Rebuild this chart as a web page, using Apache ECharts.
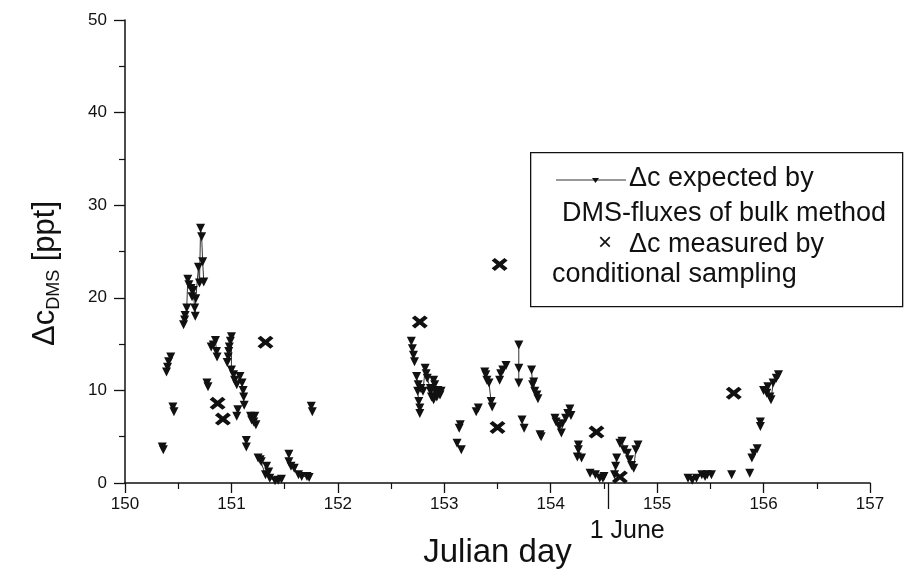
<!DOCTYPE html>
<html><head><meta charset="utf-8">
<script src="https://cdn.jsdelivr.net/npm/echarts@6/dist/echarts.min.js"></script>
<style>html,body{margin:0;padding:0;background:#fff}#c{width:917px;height:579px}</style>
</head><body><div id="c"></div>
<script>
// Δc expected by DMS-fluxes of bulk method: [julian day, ppt], connected within each segment
var expectedSegments = [
  [[150.35,3.9],[150.36,3.6]],
  [[150.39,12.0],[150.40,12.5],[150.41,13.1],[150.43,13.6]],
  [[150.45,8.2],[150.46,7.7]],
  [[150.55,17.1],[150.56,17.6],[150.565,18.1],[150.58,18.9],[150.59,22.0],[150.60,21.4],[150.62,21.0],[150.63,20.1],[150.64,20.8],[150.655,18.9],[150.66,18.0],[150.665,19.9],[150.69,23.3],[150.70,21.6],[150.71,27.5],[150.72,26.6],[150.73,23.9],[150.74,21.7]],
  [[150.77,10.8],[150.78,10.4]],
  [[150.81,14.7],[150.83,14.9],[150.85,15.4],[150.86,14.2],[150.865,13.6]],
  [[150.96,13.0],[150.97,13.6],[150.975,14.2],[150.98,14.7],[150.99,15.3],[151.0,15.8],[151.0,12.2],[151.02,11.7],[151.03,11.1],[151.05,10.6],[151.08,11.5],[151.1,10.8],[151.11,10.0],[151.115,9.3],[151.12,8.4]],
  [[151.05,7.2],[151.06,7.9]],
  [[151.14,4.6],[151.14,3.9]],
  [[151.18,7.2],[151.19,6.8],[151.21,6.6],[151.22,7.2],[151.23,6.3]],
  [[151.25,2.7],[151.27,2.5],[151.28,2.3],[151.32,0.9],[151.33,1.8],[151.35,1.2],[151.36,0.5],[151.41,0.25],[151.44,0.3],[151.47,0.4]],
  [[151.54,3.1],[151.54,2.3],[151.56,1.8],[151.59,1.6],[151.63,0.9],[151.66,0.7],[151.71,0.7],[151.73,0.6]],
  [[151.75,8.3],[151.76,7.7]],
  [[152.69,15.3],[152.70,14.5],[152.71,13.8],[152.72,13.1]],
  [[152.74,11.5],[152.755,10.6],[152.75,9.9],[152.76,8.8],[152.77,8.1],[152.77,7.5]],
  [[152.78,10.2],[152.80,9.9],[152.82,12.4],[152.83,11.8],[152.84,11.3],[152.87,10.2],[152.87,9.9],[152.88,9.3],[152.90,11.1],[152.90,9.0],[152.91,10.6],[152.92,9.9],[152.93,9.3],[152.94,10.0],[152.96,9.5],[152.97,9.9]],
  [[153.12,4.3],[153.16,3.6]],
  [[153.14,5.9],[153.15,6.3]],
  [[153.30,7.7],[153.32,8.1]],
  [[153.38,12.0],[153.39,11.7],[153.40,11.1],[153.42,10.8],[153.44,8.8],[153.45,8.2]],
  [[153.52,11.1],[153.53,11.8],[153.55,12.2],[153.58,12.7]],
  [[153.70,14.9],[153.70,12.4],[153.70,10.8]],
  [[153.73,6.8],[153.75,5.9]],
  [[153.82,12.2],[153.83,10.6],[153.84,10.9],[153.85,9.9],[153.87,9.5],[153.88,9.1]],
  [[153.90,5.2],[153.91,5.0]],
  [[154.04,7.0],[154.05,6.6],[154.08,6.1],[154.10,5.4],[154.11,6.4],[154.14,7.0],[154.16,7.5],[154.18,8.0],[154.19,7.3]],
  [[154.25,2.8],[154.26,4.1],[154.26,3.6],[154.29,2.7]],
  [[154.37,1.05],[154.42,0.9],[154.46,0.5],[154.49,0.5],[154.50,0.7]],
  [[154.60,0.9],[154.61,1.8],[154.62,2.7]],
  [[154.65,4.3],[154.67,4.5],[154.69,3.6],[154.72,3.2],[154.74,2.5],[154.76,1.9],[154.78,1.6],[154.80,3.6],[154.82,4.1]],
  [[155.29,0.5],[155.33,0.3],[155.37,0.5],[155.42,0.9],[155.45,0.7],[155.47,0.9],[155.51,0.9]],
  [[155.70,0.9]],
  [[155.87,1.05]],
  [[155.89,2.7],[155.91,3.2],[155.94,3.7]],
  [[155.97,6.6],[155.97,6.1]],
  [[156.0,10.0],[156.03,9.7],[156.04,10.4],[156.06,9.3],[156.07,9.0],[156.09,10.8],[156.12,11.3],[156.14,11.7]]
];
// Δc measured by conditional sampling
var measuredDay   = [150.87, 150.92, 151.32, 152.77, 153.52, 153.50, 154.43, 154.65, 155.72];
var measuredValue = [8.6,    6.9,    15.2,   17.4,   23.6,   6.0,    5.5,    0.65,   9.7];
// axis ticks
var xMin = 150, xMax = 157, xStep = 1;
var yMin = 0, yMax = 50, yStep = 10;
var juneDay = 154.54, juneLabel = '1 June';
var legendLines = ['Δc expected by', 'DMS-fluxes of bulk method', 'Δc measured by', 'conditional sampling'];

var expectedData = [];
expectedSegments.forEach(function (seg, i) {
  if (i > 0) expectedData.push(['-', '-']);
  seg.forEach(function (p) { expectedData.push(p); });
});
var measuredData = measuredDay.map(function (d, i) { return [d, measuredValue[i]]; });

var FONT = 'Arial, "Liberation Sans", Helvetica, sans-serif';
var X_PATH = 'path://M0,2 L2,0 L5,3 L8,0 L10,2 L7,5 L10,8 L8,10 L5,7 L2,10 L0,8 L3,5 Z';

var chart = echarts.init(document.getElementById('c'));
chart.setOption({
  animation: false,
  backgroundColor: '#fff',
  textStyle: { fontFamily: FONT },
  grid: { left: 125, right: 47, top: 20, bottom: 96 },
  xAxis: [{
    type: 'value', min: xMin, max: xMax, interval: xStep,
    axisLine: { lineStyle: { color: '#111', width: 1.5 } },
    axisTick: { length: 10, lineStyle: { color: '#111', width: 1.3 } },
    minorTick: { show: true, splitNumber: 2, length: 6, lineStyle: { color: '#111', width: 1.2 } },
    splitLine: { show: false },
    axisLabel: { color: '#111', fontSize: 17, margin: 13, fontFamily: FONT },
    name: 'Julian day', nameLocation: 'middle', nameGap: 53,
    nameTextStyle: { color: '#111', fontSize: 33, fontFamily: FONT }
  }, {
    type: 'value', min: xMin, max: xMax, position: 'bottom',
    axisLine: { show: false },
    axisTick: { show: true, customValues: [juneDay], length: 26, lineStyle: { color: '#111', width: 1.3 } },
    axisLabel: { show: true, customValues: [juneDay], formatter: function () { return juneLabel; },
      color: '#111', fontSize: 25, margin: 36, padding: [0, 0, 0, 38], fontFamily: FONT },
    splitLine: { show: false }
  }],
  yAxis: {
    type: 'value', min: yMin, max: yMax, interval: yStep,
    axisLine: { show: true, lineStyle: { color: '#111', width: 1.5 } },
    axisTick: { show: true, length: 11, lineStyle: { color: '#111', width: 1.3 } },
    minorTick: { show: true, splitNumber: 2, length: 6, lineStyle: { color: '#111', width: 1.2 } },
    splitLine: { show: false },
    axisLabel: { color: '#111', fontSize: 17, margin: 18, fontFamily: FONT },
    name: '{a|Δc}{s|DMS}{a| [ppt]}', nameLocation: 'middle', nameRotate: 90, nameGap: 62,
    nameTextStyle: {
      color: '#111', padding: [0, 44, 0, 0],
      rich: {
        a: { fontSize: 31, lineHeight: 36, color: '#111', fontFamily: FONT },
        s: { fontSize: 18, lineHeight: 18, verticalAlign: 'bottom', color: '#111', fontFamily: FONT }
      }
    }
  },
  series: [{
    type: 'line', data: expectedData, connectNulls: false,
    symbol: 'triangle', symbolRotate: 180, symbolSize: 9, showAllSymbol: true,
    itemStyle: { color: '#111', opacity: 1 },
    lineStyle: { color: '#333', width: 1 }
  }, {
    type: 'scatter', data: measuredData,
    symbol: X_PATH, symbolSize: [16, 13],
    itemStyle: { color: '#111', opacity: 1 }
  }],
  graphic: [
    { type: 'rect', left: 530, top: 152, shape: { width: 372, height: 154 },
      style: { fill: '#fff', stroke: '#111', lineWidth: 1.3 }, z: 10 },
    { type: 'line', shape: { x1: 556, y1: 180, x2: 626, y2: 180 }, style: { stroke: '#333', lineWidth: 1 }, z: 11 },
    { type: 'polygon', shape: { points: [[592, 178], [599, 178], [595.5, 183]] }, style: { fill: '#111' }, z: 11 },
    { type: 'text', x: 629, y: 179, style: { text: legendLines[0], font: '27px ' + FONT, fill: '#111', verticalAlign: 'middle' }, z: 11 },
    { type: 'text', x: 562, y: 214, style: { text: legendLines[1], font: '27px ' + FONT, fill: '#111', verticalAlign: 'middle' }, z: 11 },
    { type: 'text', x: 598, y: 243, style: { text: '×', font: '24px ' + FONT, fill: '#111', verticalAlign: 'middle' }, z: 11 },
    { type: 'text', x: 629, y: 245, style: { text: legendLines[2], font: '27px ' + FONT, fill: '#111', verticalAlign: 'middle' }, z: 11 },
    { type: 'text', x: 552, y: 275, style: { text: legendLines[3], font: '27px ' + FONT, fill: '#111', verticalAlign: 'middle' }, z: 11 }
  ]
});
</script></body></html>
